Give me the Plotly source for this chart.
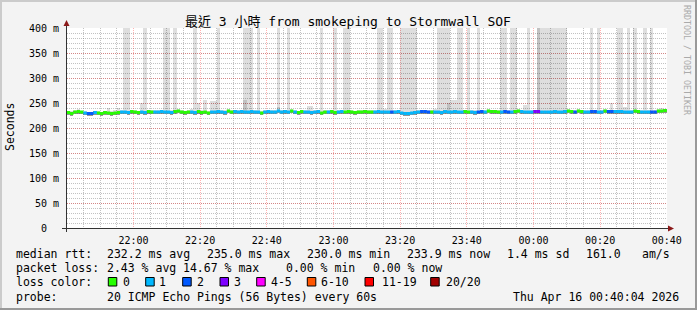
import plotly.graph_objects as go
from datetime import datetime, timedelta

# ---------------- data ----------------
title_text = "最近 3 小時 from smokeping to Stormwall SOF"
y_tick_vals = [0, 50, 100, 150, 200, 250, 300, 350, 400]
y_tick_text = ["0\u00a0\u00a0", "50 m", "100 m", "150 m", "200 m", "250 m", "300 m", "350 m", "400 m"]

# median rtt (ms) per minute, 21:40 .. 00:39
median = [231, 229, 232, 233, 232, 230, 229, 229, 231, 230,
          229, 231, 230, 229, 230, 231, 232, 232, 231, 233,
          232, 231, 232, 231, 233, 232, 232, 232, 233, 232,
          232, 231, 233, 234, 232, 231, 232, 232, 231, 233,
          231, 232, 230, 232, 232, 233, 232, 231, 234, 232,
          233, 232, 233, 232, 232, 233, 232, 232, 230, 232,
          233, 232, 232, 234, 232, 233, 232, 234, 232, 231,
          233, 232, 232, 231, 232, 233, 230, 232, 232, 233,
          231, 232, 233, 232, 233, 232, 231, 232, 232, 233,
          232, 232, 232, 233, 232, 232, 232, 232, 232, 233,
          230, 229, 229, 230, 231, 232, 233, 233, 232, 232,
          232, 232, 231, 233, 232, 232, 233, 232, 232, 233,
          232, 232, 231, 232, 233, 232, 234, 233, 233, 232,
          232, 233, 232, 232, 233, 234, 233, 232, 232, 232,
          233, 233, 232, 232, 232, 232, 233, 232, 232, 233,
          234, 233, 232, 234, 233, 232, 232, 233, 233, 232,
          232, 234, 233, 233, 233, 233, 233, 232, 232, 232,
          234, 233, 232, 232, 232, 232, 232, 234, 234, 235]

# lost pings (of 20) per minute
loss = [0, 0, 0, 0, 0, 1, 2, 2, 1, 0,
        0, 0, 0, 0, 0, 0, 1, 1, 1, 0,
        0, 0, 1, 1, 0, 0, 1, 1, 1, 1,
        1, 1, 0, 0, 0, 0, 0, 1, 1, 0,
        0, 0, 0, 1, 1, 1, 1, 1, 0, 0,
        1, 1, 1, 1, 1, 1, 1, 1, 0, 1,
        1, 1, 1, 1, 1, 1, 1, 0, 1, 0,
        0, 1, 1, 1, 1, 1, 0, 0, 1, 0,
        0, 1, 1, 0, 0, 0, 0, 0, 0, 0,
        0, 0, 1, 1, 1, 1, 1, 2, 1, 1,
        1, 1, 1, 1, 1, 1, 2, 2, 2, 0,
        1, 1, 1, 1, 1, 1, 1, 1, 1, 0,
        0, 1, 1, 2, 2, 1, 0, 0, 0, 0,
        1, 2, 2, 1, 0, 0, 1, 1, 1, 1,
        3, 3, 1, 1, 1, 1, 1, 1, 1, 1,
        0, 0, 2, 0, 0, 1, 1, 2, 2, 1,
        1, 0, 2, 2, 1, 1, 1, 1, 1, 1,
        0, 0, 1, 1, 1, 2, 2, 0, 0, 0]

# highest ping (ms) per minute, 450 = beyond the 400 ms top
smoke_top = [235, 234, 236, 238, 235, 234, 233, 233, 235, 234,
             233, 235, 240, 234, 236, 240, 236, 450, 450, 237,
             236, 235, 250, 450, 237, 236, 236, 237, 236, 450,
             450, 236, 450, 238, 236, 235, 236, 238, 450, 250,
             236, 256, 235, 254, 254, 450, 237, 236, 238, 236,
             237, 236, 237, 450, 450, 450, 237, 450, 235, 236,
             237, 236, 236, 450, 236, 237, 450, 238, 236, 235,
             237, 236, 244, 244, 236, 237, 450, 236, 236, 237,
             450, 236, 237, 450, 450, 236, 235, 236, 236, 237,
             236, 236, 237, 450, 450, 238, 450, 450, 236, 237,
             450, 450, 450, 450, 450, 236, 237, 237, 236, 236,
             238, 450, 450, 450, 450, 256, 256, 450, 450, 237,
             450, 236, 236, 450, 237, 236, 238, 237, 237, 236,
             450, 450, 236, 450, 450, 238, 237, 246, 450, 236,
             237, 450, 450, 450, 450, 450, 450, 450, 450, 450,
             238, 237, 236, 238, 237, 236, 236, 450, 237, 450,
             236, 238, 237, 250, 237, 450, 450, 242, 450, 236,
             450, 237, 236, 450, 236, 450, 236, 238, 240, 239]

# second-highest ping where it stands out (minute index -> ms)
smoke_second_idx = [53, 114, 141, 63]
smoke_second_val = [256, 250, 450, 243]

loss_labels = ["0", "1", "2", "3", "4-5", "6-10", "11-19", "20/20"]
loss_colors = ["#26ff00", "#00b8ff", "#0059ff", "#7e00ff", "#ff00ff", "#ff5500", "#ff0000", "#a10000"]

rtt_stats = ["232.2 ms avg", "235.0 ms max", "230.0 ms min", "233.9 ms now", "1.4 ms sd", "161.0", "am/s"]
loss_stats = ["2.43 % avg", "14.67 % max", "0.00 % min", "0.00 % now"]
probe_text = "20 ICMP Echo Pings (56 Bytes) every 60s"
stamp_text = "Thu Apr 16 00:40:04 2026"

# ---------------- layout helpers ----------------
W, H = 697, 310
PL, PR, PT, PB = 67, 667, 28, 228


def px(x):
    return (x - PL) / (PR - PL)


def py(y):
    return (PB - y) / (PB - PT)


t_start = datetime(2026, 4, 15, 21, 40, 4)
t_end = datetime(2026, 4, 16, 0, 40, 4)
col0 = datetime(2026, 4, 15, 21, 40, 0)
fmt = "%Y-%m-%d %H:%M:%S"

n = len(median)
centers = [(col0 + timedelta(minutes=i, seconds=30)).strftime(fmt) for i in range(n)]

fig = go.Figure()

# light smoke (up to highest ping)
fig.add_trace(go.Bar(
    x=centers, base=median, y=[t - m for t, m in zip(smoke_top, median)],
    width=60000, marker=dict(color="rgba(0,0,0,0.13)", line=dict(width=0)),
    hoverinfo="skip"))

# darker smoke where several pings are high
sx = [centers[i] for i in smoke_second_idx]
sb = [median[i] for i in smoke_second_idx]
fig.add_trace(go.Bar(
    x=sx, base=sb, y=[v - b for v, b in zip(smoke_second_val, sb)],
    width=60000, marker=dict(color="rgba(0,0,0,0.13)", line=dict(width=0)),
    hoverinfo="skip"))

# dense smoke core around the median
fig.add_trace(go.Bar(
    x=centers, base=[m - 4.5 for m in median], y=[7] * n,
    width=60000, marker=dict(color="rgba(60,60,60,0.55)", line=dict(width=0)),
    hoverinfo="skip"))

# median line coloured by loss
for lv in sorted(set(loss)):
    xs, ys = [], []
    for i, (m, l) in enumerate(zip(median, loss)):
        if l == lv:
            xs += [(col0 + timedelta(minutes=i)).strftime(fmt),
                   (col0 + timedelta(minutes=i + 1)).strftime(fmt), None]
            ys += [m, m, None]
    fig.add_trace(go.Scatter(x=xs, y=ys, mode="lines",
                             line=dict(color=loss_colors[lv], width=3),
                             hoverinfo="skip"))

mono = "DejaVu Sans Mono"
major_grid = "rgba(255,0,0,0.30)"
minor_grid = "rgba(110,110,110,0.42)"

fig.update_layout(
    width=W, height=H,
    margin=dict(l=PL, r=W - PR, t=PT, b=H - PB, pad=0),
    paper_bgcolor="#f3f3f3", plot_bgcolor="#ffffff",
    barmode="overlay", bargap=0, showlegend=False, hovermode=False,
    font=dict(family=mono, size=10, color="#000000"),
)

fig.update_xaxes(
    type="date", range=[t_start.strftime(fmt), t_end.strftime(fmt)],
    tickmode="linear", tick0="2026-04-15 22:00:00", dtick=1200000,
    tickformat="%H:%M", tickfont=dict(family=mono, size=10, color="#000"),
    ticks="outside", ticklen=3, tickcolor="rgba(0,0,0,0)",
    showgrid=True, gridcolor=major_grid, griddash="1px,1px", gridwidth=1,
    minor=dict(dtick=300000, tick0="2026-04-15 22:00:00", showgrid=True,
               gridcolor=minor_grid, griddash="1px,1px", gridwidth=1),
    showline=False, zeroline=False, fixedrange=True,
)
fig.update_yaxes(
    range=[0, 400], tickmode="array", tickvals=y_tick_vals, ticktext=y_tick_text,
    tickfont=dict(family=mono, size=10, color="#000"),
    ticks="outside", ticklen=5, tickcolor="rgba(0,0,0,0)",
    showgrid=True, gridcolor=major_grid, griddash="1px,1px", gridwidth=1,
    minor=dict(dtick=10, showgrid=True, gridcolor=minor_grid,
               griddash="1px,1px", gridwidth=1),
    showline=False, zeroline=False, fixedrange=True,
)

shapes = []
# frame shading
shapes.append(dict(type="rect", xref="paper", yref="paper", x0=px(0), x1=px(W), y0=py(H - 2), y1=py(H),
                   fillcolor="#999999", line=dict(width=0)))
shapes.append(dict(type="rect", xref="paper", yref="paper", x0=px(W - 2), x1=px(W), y0=py(H), y1=py(0),
                   fillcolor="#999999", line=dict(width=0)))
shapes.append(dict(type="rect", xref="paper", yref="paper", x0=px(0), x1=px(W - 2), y0=py(2), y1=py(0),
                   fillcolor="#cbcbcb", line=dict(width=0)))
shapes.append(dict(type="rect", xref="paper", yref="paper", x0=px(0), x1=px(2), y0=py(H - 2), y1=py(0),
                   fillcolor="#cbcbcb", line=dict(width=0)))
# axes
shapes.append(dict(type="line", xref="paper", yref="paper", x0=px(62), x1=px(669), y0=py(228.5), y1=py(228.5),
                   line=dict(color="#333333", width=1), layer="above"))
shapes.append(dict(type="line", xref="paper", yref="paper", x0=px(66.5), x1=px(66.5), y0=py(232), y1=py(25),
                   line=dict(color="#333333", width=1), layer="above"))
# arrow heads
shapes.append(dict(type="path", xref="paper", yref="paper",
                   path=f"M {px(63.5)} {py(26)} L {px(69.5)} {py(26)} L {px(66.5)} {py(20)} Z",
                   fillcolor="#8b1a1a", line=dict(width=0), layer="above"))
shapes.append(dict(type="path", xref="paper", yref="paper",
                   path=f"M {px(668)} {py(225.5)} L {px(668)} {py(231.5)} L {px(674)} {py(228.5)} Z",
                   fillcolor="#8b1a1a", line=dict(width=0), layer="above"))

# loss colour boxes
box_left = [108.3, 145.7, 182.7, 220, 256.7, 307.3, 365, 430.7]
label_left = [123.3, 159.3, 196.7, 234.3, 270.7, 320.7, 381.7, 446]
for bl, c in zip(box_left, loss_colors):
    shapes.append(dict(type="rect", xref="paper", yref="paper", x0=px(bl), x1=px(bl + 8.5),
                       y0=py(286), y1=py(277.5), fillcolor=c, line=dict(color="#000000", width=1)))

fig.update_layout(shapes=shapes)

ann = []


def txt(x, y, s, size=11.5, xanchor="left", angle=0, color="#000000", family=mono):
    ann.append(dict(x=px(x), y=py(y), xref="paper", yref="paper", text=s, showarrow=False,
                    xanchor=xanchor, yanchor="middle", textangle=angle,
                    font=dict(family=family, size=size, color=color),
                    borderpad=0, borderwidth=0))


txt(348, 21.5, title_text, size=13, xanchor="center",
    family="DejaVu Sans Mono, Noto Sans CJK TC")
txt(10, 127, "Seconds", xanchor="center", angle=-90)
txt(687, 60, "RRDTOOL / TOBI OETIKER", size=8.3, xanchor="center", angle=90, color="#aaaaaa")

row1_x = [107.3, 207.3, 306.7, 407.3, 507.3, 586, 642]
txt(16, 254, "median rtt:")
for x, s in zip(row1_x, rtt_stats):
    txt(x, 254, s)

row2_x = [107.3, 182.7, 286, 372.7]
txt(16, 268, "packet loss:")
for x, s in zip(row2_x, loss_stats):
    txt(x, 268, s)

txt(16, 282, "loss color:")
for x, s in zip(label_left, loss_labels):
    txt(x, 282, s)

txt(16, 296.5, "probe:")
txt(107.3, 296.5, probe_text)
txt(513.3, 296.5, stamp_text)

fig.update_layout(annotations=ann)

fig.write_html("out.html")
